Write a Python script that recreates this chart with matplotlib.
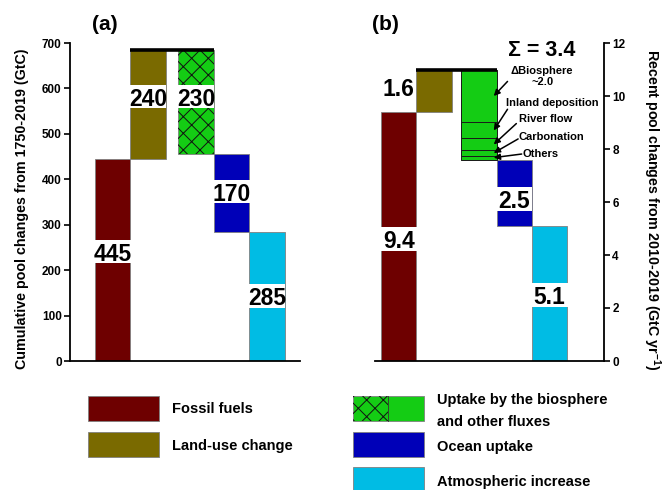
import matplotlib.pyplot as plt
from matplotlib.patches import Rectangle

plt.rcParams['font.family'] = ['Liberation Sans', 'DejaVu Sans']
plt.rcParams['font.weight'] = 'bold'
plt.rcParams['mathtext.fontset'] = 'custom'
plt.rcParams['mathtext.rm'] = 'Liberation Sans:bold'
plt.rcParams['mathtext.bf'] = 'Liberation Sans:bold'
plt.rcParams['hatch.linewidth'] = 0.7

# carbon budget terms: two sources, then three sinks
components = ['Fossil fuels', 'Land-use change',
              'Uptake by the biosphere\nand other fluxes',
              'Ocean uptake', 'Atmospheric increase']
colors = ['#6e0000', '#7a6a00', '#14cc14', '#0000b8', '#00bce4']

# (a) cumulative changes 1750-2019, GtC
cum_values = [445, 240, 230, 170, 285]
cum_labels = ['445', '240', '230', '170', '285']
cum_ticks = [0, 100, 200, 300, 400, 500, 600, 700]

# (b) mean annual changes 2010-2019, GtC/yr
rec_values = [9.4, 1.6, 3.4, 2.5, 5.1]
rec_labels = ['9.4', '1.6', '3.4', '2.5', '5.1']
rec_ticks = [0, 2, 4, 6, 8, 10, 12]

# breakdown of the land uptake in (b), top to bottom
bio_parts = [2.0, 0.6, 0.45, 0.2, 0.15]
bio_names = ['\u0394Biosphere\n~2.0', 'Inland deposition', 'River flow',
             'Carbonation', 'Others']


def waterfall(values):
    # sources pile up from zero, sinks step back down from the total
    total = values[0] + values[1]
    bottoms = [0, values[0]]
    level = total
    for v in values[2:]:
        level -= v
        bottoms.append(level)
    return bottoms, total


def bar_positions(first, gap):
    return [first, first + 1, first + 2 + gap, first + 3 + gap, first + 4 + gap]


def draw_bars(ax, values, xs, hatch_bio):
    bottoms, total = waterfall(values)
    for i, v in enumerate(values):
        ax.bar(xs[i], v, bottom=bottoms[i], width=1, color=colors[i],
               edgecolor='#808080', linewidth=0.6, zorder=2)
    if hatch_bio:
        ax.bar(xs[2], values[2], bottom=bottoms[2], width=1, fill=False,
               hatch='xx', edgecolor='#111111', linewidth=0, zorder=2.5)
    ax.plot([xs[1] - 0.5, xs[2] + 0.5], [total, total], color='k', lw=2.6,
            solid_capstyle='butt', zorder=6)
    return bottoms, total


def boxed_label(ax, x, y, text, box_h):
    ax.bar(x, box_h, bottom=y - box_h / 2, width=1.03, color='white', zorder=3)
    ax.text(x, y, text, ha='center', va='center_baseline', fontsize=16.5,
            fontweight='bold', zorder=5)


def style_axis(ax, side):
    for s in ['top', 'left', 'right', 'bottom']:
        ax.spines[s].set_visible(s in (side, 'bottom'))
        ax.spines[s].set_linewidth(1.3)
    ax.set_xticks([])
    ax.set_xlim(0, 6.48)
    if side == 'right':
        ax.yaxis.tick_right()
        ax.yaxis.set_label_position('right')
    ax.tick_params(axis='y', direction='out', length=4, width=1.2,
                   labelsize=8.5, pad=2)


fig = plt.figure(figsize=(6.62, 4.90), dpi=100)

# ---- (a) cumulative ----
ax_a = fig.add_axes([70 / 662, 1 - 361 / 490, 230 / 662, 318 / 490])
style_axis(ax_a, 'left')
ax_a.set_ylim(0, 700)
ax_a.set_yticks(cum_ticks)
xa = bar_positions(1.2, 0.35)
draw_bars(ax_a, cum_values, xa, True)
label_ya = [241, 582, 582, 373, 143]
for i in range(5):
    boxed_label(ax_a, xa[i], label_ya[i], cum_labels[i], 51)
ax_a.set_ylabel('Cumulative pool changes from 1750-2019 (GtC)', fontsize=10.3,
                fontweight='bold', va='center')
ax_a.yaxis.set_label_coords(-0.21, 0.48)
fig.text(105 / 662, 1 - 25 / 490, '(a)', fontsize=15, fontweight='bold',
         ha='center', va='center')

# ---- (b) recent annual ----
ax_b = fig.add_axes([375 / 662, 1 - 361 / 490, 229 / 662, 318 / 490])
style_axis(ax_b, 'right')
ax_b.set_ylim(0, 12)
ax_b.set_yticks(rec_ticks)
xb = bar_positions(0.67, 0.27)
bottoms_b, total_b = draw_bars(ax_b, rec_values, xb, False)

# split the land uptake bar into its parts
level = total_b
mids = []
for part in bio_parts:
    ax_b.bar(xb[2], part, bottom=level - part, width=1, color=colors[2],
             edgecolor='#1a1a1a', linewidth=0.7, zorder=2.2)
    mids.append(level - part / 2)
    level -= part

boxed_label(ax_b, xb[0], 4.6, rec_labels[0], 0.9)
ax_b.text(xb[0], 10.35, rec_labels[1], ha='center', va='center_baseline',
          fontsize=16.5, fontweight='bold', zorder=5)
boxed_label(ax_b, xb[3], 6.1, rec_labels[3], 0.9)
boxed_label(ax_b, xb[4], 2.5, rec_labels[4], 0.9)
ax_b.text(4.72, 11.8, '\u03a3 = ' + rec_labels[2], ha='center',
          va='center_baseline', fontsize=15.5, fontweight='bold', zorder=5)

# labels for the land uptake parts with arrows into the bar
text_pos = [(4.73, 10.75, 'center'), (3.72, 9.74, 'left'), (4.08, 9.13, 'left'),
            (4.05, 8.45, 'left'), (4.17, 7.81, 'left')]
tails = [(3.75, 10.55), (3.75, 9.5), (4.0, 8.96), (4.05, 8.38), (4.15, 7.81)]
head_x = xb[2] + 0.5 - 0.08
for name, (tx, ty, ha), tail, ym in zip(bio_names, text_pos, tails, mids):
    ax_b.text(tx, ty, name, ha=ha, va='center', fontsize=8,
              fontweight='bold', linespacing=1.15, zorder=5)
    ax_b.annotate('', xy=(head_x, ym), xytext=tail,
                  arrowprops=dict(arrowstyle='-|>', color='k', lw=1.1,
                                  mutation_scale=9, shrinkA=0, shrinkB=0),
                  zorder=6)

ax_b.set_ylabel(r'Recent pool changes from 2010-2019 (GtC yr$^{\mathbf{-1}}$)',
                fontsize=10.3, fontweight='bold', rotation=270, va='center')
ax_b.yaxis.set_label_coords(1.21, 0.475)
fig.text(385 / 662, 1 - 25 / 490, '(b)', fontsize=15, fontweight='bold',
         ha='center', va='center')

# ---- legend, laid out in pixel units ----
ax_leg = fig.add_axes([0, 0, 1, 1], zorder=-1)
ax_leg.set_xlim(0, 662)
ax_leg.set_ylim(490, 0)
ax_leg.axis('off')
slots = [(87.5, 396), (87.5, 431.7), (352.7, 396), (352.7, 431.7), (352.7, 466.7)]
text_dy = [0.5, 1.8, 2.5, 3.0, 2.7]
pw, ph = 71, 25
for i, (px, py) in enumerate(slots):
    ax_leg.add_patch(Rectangle((px, py), pw, ph, facecolor=colors[i],
                               edgecolor='#808080', lw=0.6))
    if i == 2:
        ax_leg.add_patch(Rectangle((px, py), pw / 2, ph, fill=False,
                                   hatch='xx', edgecolor='#111111', lw=0))
        ax_leg.plot([px + pw / 2, px + pw / 2], [py, py + ph], color='#333333',
                    lw=0.6)
    ax_leg.text(px + 84, py + ph / 2 + text_dy[i], components[i],
                ha='left', va='center', fontsize=10.5, fontweight='bold',
                linespacing=1.7)

fig.savefig('out.png', dpi=100)
